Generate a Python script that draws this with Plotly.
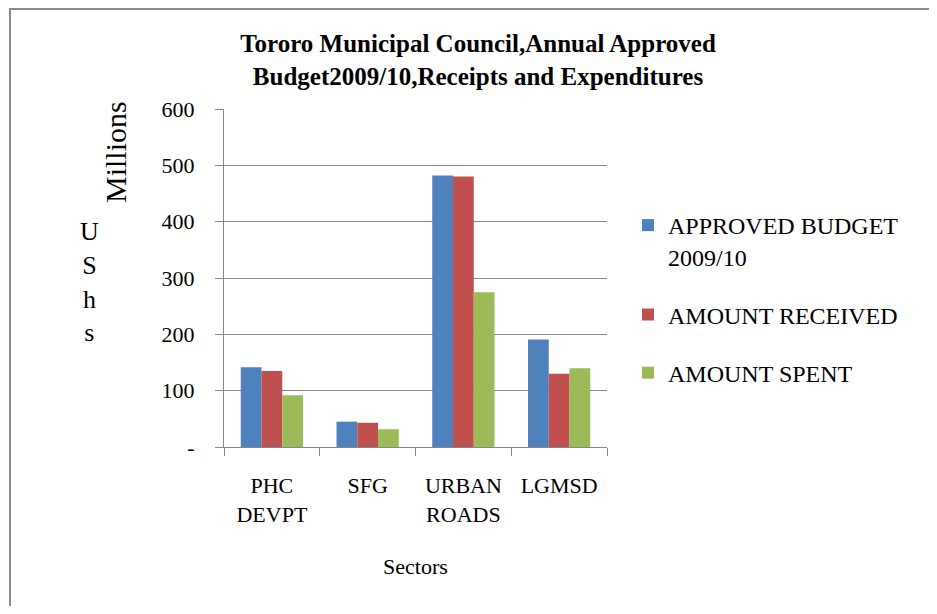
import plotly.graph_objects as go

categories = ["PHC<br>DEVPT", "SFG", "URBAN<br>ROADS", "LGMSD"]
approved_budget = [141.5, 45, 482, 191]
amount_received = [135, 43, 480, 130]
amount_spent = [92, 31.5, 274.5, 140]
series_names = ["APPROVED BUDGET<br>2009/10", "AMOUNT RECEIVED", "AMOUNT SPENT"]
y_tickvals = [0, 100, 200, 300, 400, 500, 600]
y_ticktext = ["-", "100", "200", "300", "400", "500", "600"]

colors = ["#4F81BD", "#C0504D", "#9BBB59"]
FONT = "Liberation Serif, Times New Roman, serif"

fig = go.Figure()
for i, (name, vals) in enumerate(zip(series_names, [approved_budget, amount_received, amount_spent])):
    fig.add_trace(go.Bar(
        x=categories, y=vals, name=name, legendgroup=f"g{i}",
        marker=dict(color=colors[i], line=dict(width=0)),
    ))

# figure sits 8px inside the page (body margin); coordinates below are figure pixels
W, H = 921, 598
L, R, T, B = 216, 322, 101, 159
pw, ph = W - L - R, H - T - B

def px2paper_x(x):
    return (x - L) / pw

def px2paper_y(y):
    return (H - B - y) / ph

fig.update_layout(
    width=W, height=H,
    margin=dict(l=L, r=R, t=T, b=B, autoexpand=False),
    paper_bgcolor="white", plot_bgcolor="white",
    font=dict(family=FONT, size=22, color="black"),
    barmode="group", bargap=0.35, bargroupgap=0,
    title=dict(
        text="<b>Tororo Municipal Council,Annual Approved<br>Budget2009/10,Receipts and Expenditures</b>",
        x=470 / W, xanchor="center", y=1 - 44 / H, yanchor="middle",
        font=dict(family=FONT, size=25, color="black"),
    ),
    legend=dict(
        x=px2paper_x(620), xanchor="left", y=px2paper_y(195), yanchor="top",
        font=dict(family=FONT, size=24, color="black"),
        tracegroupgap=24, traceorder="grouped", valign="top",
        bgcolor="rgba(0,0,0,0)", itemwidth=30,
    ),
    showlegend=True,
    xaxis=dict(
        showline=True, linecolor="#868686", linewidth=1,
        ticks="outside", ticklen=8, tickcolor="#868686", tickson="boundaries",
        ticklabelstandoff=19,
        tickfont=dict(family=FONT, size=22, color="black"),
        title=dict(text="Sectors", standoff=32, font=dict(family=FONT, size=22, color="black")),
    ),
    yaxis=dict(
        range=[0, 600], tickvals=y_tickvals, ticktext=y_ticktext,
        showgrid=True, gridcolor="#868686", gridwidth=1,
        showline=True, linecolor="#868686", linewidth=1,
        ticks="outside", ticklen=8, tickcolor="#868686",
        ticklabelstandoff=16,
        tickfont=dict(family=FONT, size=22, color="black"),
        zeroline=False,
    ),
    shapes=[dict(
        type="rect", xref="paper", yref="paper",
        x0=px2paper_x(2), x1=px2paper_x(960), y0=px2paper_y(1), y1=px2paper_y(640),
        line=dict(color="#8a8a8a", width=2), fillcolor="rgba(0,0,0,0)", layer="below",
    )],
    annotations=[
        dict(text="Millions", xref="paper", yref="paper", x=px2paper_x(107), y=px2paper_y(144),
             xanchor="center", yanchor="middle", textangle=-90, showarrow=False,
             font=dict(family=FONT, size=30, color="black")),
        dict(text="U<br>S<br>h<br>s", xref="paper", yref="paper", x=px2paper_x(81), y=px2paper_y(274),
             xanchor="center", yanchor="middle", showarrow=False,
             font=dict(family=FONT, size=26, color="black")),
    ],
)

fig.write_html("out.html")
